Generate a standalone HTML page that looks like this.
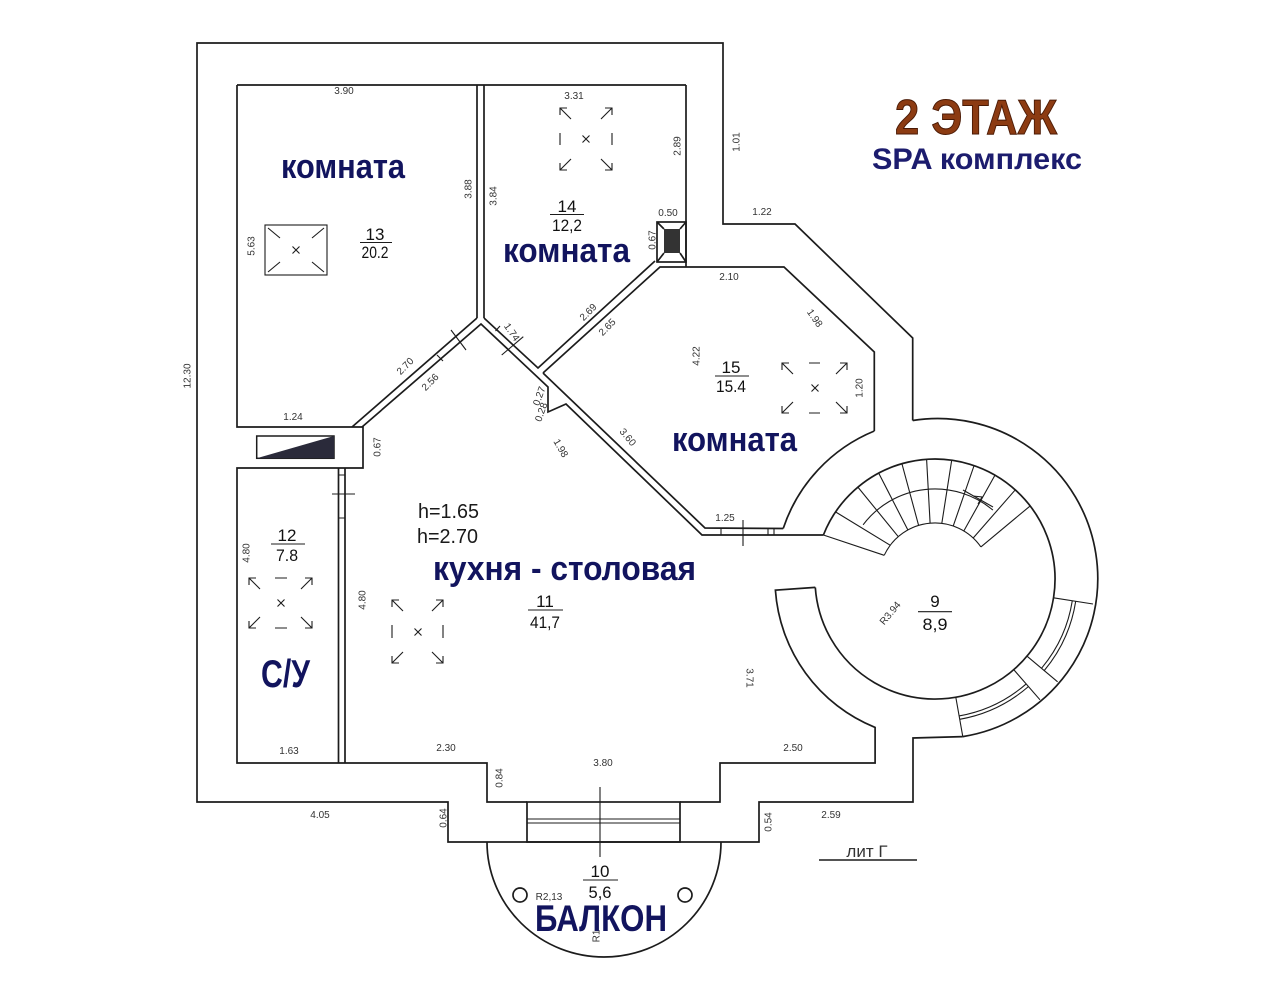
<!DOCTYPE html>
<html><head><meta charset="utf-8">
<style>
html,body{margin:0;padding:0;background:#fff;}
svg{display:block;}
.s{font-family:"Liberation Sans",sans-serif;font-size:10px;fill:#333;text-anchor:middle;}
.f{font-family:"Liberation Sans",sans-serif;font-size:17px;fill:#111;text-anchor:middle;}
.b{font-family:"Liberation Sans",sans-serif;font-weight:bold;fill:#12145e;}
</style></head>
<body>
<svg width="1280" height="1004" viewBox="0 0 1280 1004" xmlns="http://www.w3.org/2000/svg">
<rect width="1280" height="1004" fill="#fff"/>
<g fill="none" stroke="#1c1c1c" stroke-width="1.7" stroke-linejoin="miter">
  <!-- exterior -->
  <polyline points="912.7,420.5 912.7,338 795,224 723,224 723,43 197,43 197,802 448,802 448,842 759,842 759,802 913,802 913,738 962.8,736.6"/>
  <path d="M912.7,420.5 A160,160 0 0 1 962.8,736.6"/>
  <!-- rooms 13 / 12 left -->
  <line x1="237" y1="85" x2="686" y2="85"/>
  <polyline points="477,318 477,85"/>
  <polyline points="237,85 237,427 363,427 363,468 237,468 237,763 487,763 487,802 527,802"/>
  <polyline points="484,318 484,85"/>
  <polyline points="686,85 686,267"/>
  <!-- chimney -->
  <rect x="657" y="222" width="29" height="40"/>
  <path d="M657,222 L664,229 M686,222 L680,229 M657,262 L664,253 M686,262 L680,253"/>
  <!-- diagonal walls -->
  <line x1="477" y1="318" x2="352" y2="427"/>
  <polyline points="484,318 538,368 655,261"/>
  <polyline points="362,427 481,324 548,387 548,412 566,404 702,535 823.4,535"/>
  <polyline points="543,373 660,267 784,267 874.3,352 874.3,431"/>
  <polyline points="543,373 705,528 783.2,528.5"/>
  <path d="M783.2,528.5 A160,160 0 0 1 874.3,431"/>
  <!-- room 9 circle -->
  <path d="M823.4,535 A120,120 0 1 1 815.3,587.4"/>
  <!-- curved wall and kitchen bottom right -->
  <path d="M815.3,587.4 L775.4,590.2 A160,160 0 0 0 875.1,727.4 L875.1,763 L720,763 L720,802 L680,802"/>
  <!-- balcony door window -->
  <rect x="527" y="802" width="153" height="40"/>
  <!-- 12/kitchen wall -->
  <line x1="338.5" y1="468" x2="338.5" y2="763"/>
  <line x1="345" y1="468" x2="345" y2="763"/>
  <!-- balcony -->
  <path d="M487,842 A117,115 0 0 0 721,842"/>
  <circle cx="520" cy="895" r="7"/>
  <circle cx="685" cy="895" r="7"/>
</g>
<g fill="none" stroke="#1c1c1c" stroke-width="1.1">
  <!-- ticks -->
  <path d="M721,528 L721,535 M743,520 L743,546 M768,528 L768,535 M774,528 L774,535"/>
  <path d="M451,330 L466,350 M437,355 L443,361"/>
  <path d="M501.7,355 L523.3,336.7 M495.5,331 L500,326"/>
  <path d="M332,494 L355,494 M338.5,475 L345,475 M338.5,518 L345,518"/>
  <path d="M527,819 L680,819 M527,823 L680,823"/>
  <path d="M600,787 L600,857"/>
  <line x1="819" y1="860" x2="917" y2="860" stroke-width="1.6"/>
  <!-- stairs -->
  <path d="M884.2,555.3 A56,56 0 0 1 980.9,546.9"/>
  <path d="M863.1,524.8 A90,90 0 0 1 992.9,510.1"/>
  <path d="M823.4,535 L884.2,555.3 M835.5,511.9 L890.3,545.3 M857.9,487.1 L898.3,536.7 M878.7,473.1 L907.9,530 M901.9,463.6 L918.6,525.4 M926.6,459.3 L930.1,523.2 M951.7,460.2 L941.8,523.4 M974.1,465.5 L953.2,526.1 M995,475.1 L963.8,531 M1015.3,489.8 L973.2,538 M1030.2,505.9 L980.9,546.9"/>
  <path d="M963,490 L993,507"/>
  <path d="M973,496 L982,497 L978,504"/>
  <!-- tower windows -->
  <path d="M1053.5,597.8 L1093,604 M1026.9,656.1 L1057.6,681.8 M1013.7,669.6 L1040,699.8 M955.8,697.2 L962.8,736.6"/>
  <path d="M1072.3,600.7 A139,139 0 0 1 1041.5,668.3 M1075.7,601.3 A142.5,142.5 0 0 1 1044.2,670.6"/>
  <path d="M1026.2,683.9 A139,139 0 0 1 959.1,715.9 M1028.5,686.5 A142.5,142.5 0 0 1 959.7,719.3"/>
  <!-- ceiling symbols -->
  <rect x="265" y="225" width="62" height="50"/>
  <path d="M268,228 L280,238 M324,228 L312,238 M268,272 L280,262 M324,272 L312,262 M292.5,246.5 L299.5,253.5 M299.5,246.5 L292.5,253.5"/>
  <!-- room14 560,108-612,170 -->
  <path d="M567,108 L560,108 L560,115 M560,108 L571,119 M605,108 L612,108 L612,115 M612,108 L601,119 M560,163 L560,170 L567,170 M560,170 L571,159 M612,163 L612,170 L605,170 M612,170 L601,159 M560,133 L560,145 M612,133 L612,145 M582.5,135.5 L589.5,142.5 M589.5,135.5 L582.5,142.5"/>
  <!-- room15 782,363-847,413 -->
  <path d="M789,363 L782,363 L782,370 M782,363 L793,374 M840,363 L847,363 L847,370 M847,363 L836,374 M782,406 L782,413 L789,413 M782,413 L793,402 M847,406 L847,413 L840,413 M847,413 L836,402 M809,363 L820,363 M809,413 L820,413 M811.5,384.5 L818.5,391.5 M818.5,384.5 L811.5,391.5"/>
  <!-- room12 249,578-312,628 -->
  <path d="M256,578 L249,578 L249,585 M249,578 L260,589 M305,578 L312,578 L312,585 M312,578 L301,589 M249,621 L249,628 L256,628 M249,628 L260,617 M312,621 L312,628 L305,628 M312,628 L301,617 M275,578 L287,578 M275,628 L287,628 M277.5,599.5 L284.5,606.5 M284.5,599.5 L277.5,606.5"/>
  <!-- kitchen 392,600-443,663 -->
  <path d="M399,600 L392,600 L392,607 M392,600 L403,611 M436,600 L443,600 L443,607 M443,600 L432,611 M392,656 L392,663 L399,663 M392,663 L403,652 M443,656 L443,663 L436,663 M443,663 L432,652 M392,625 L392,638 M443,625 L443,638 M414.5,628.5 L421.5,635.5 M421.5,628.5 L414.5,635.5"/>
  <!-- fraction bars -->
  <path d="M360,242.5 L392,242.5 M550,214.5 L584,214.5 M715,376 L749,376 M271,544 L305,544 M528,610 L563,610 M918,611.7 L952,611.7 M583,880 L618,880"/>
</g>
<!-- dark fills -->
<rect x="664" y="229" width="16" height="24" fill="#333"/>
<rect x="256.7" y="436" width="77.3" height="22.3" fill="none" stroke="#1c1c1c" stroke-width="1.5"/>
<polygon points="256.7,458.3 334,436 334,458.3" fill="#2a2a3a"/>

<!-- small dimension labels -->
<g>
<text class="s" x="344" y="94">3.90</text>
<text class="s" x="574" y="99">3.31</text>
<text class="s" transform="translate(677,146) rotate(-90)" dy="3.5">2.89</text>
<text class="s" transform="translate(736,142) rotate(-90)" dy="3.5">1.01</text>
<text class="s" transform="translate(468,189) rotate(-90)" dy="3.5">3.88</text>
<text class="s" transform="translate(493,196) rotate(-90)" dy="3.5">3.84</text>
<text class="s" transform="translate(251,246) rotate(-90)" dy="3.5">5.63</text>
<text class="s" transform="translate(187,376) rotate(-90)" dy="3.5">12.30</text>
<text class="s" x="668" y="216">0.50</text>
<text class="s" transform="translate(652,240) rotate(-90)" dy="3.5">0.67</text>
<text class="s" x="762" y="215">1.22</text>
<text class="s" x="729" y="280">2.10</text>
<text class="s" transform="translate(815,318) rotate(55)" dy="3.5">1.98</text>
<text class="s" transform="translate(696,356) rotate(-90)" dy="3.5">4.22</text>
<text class="s" transform="translate(859,388) rotate(-90)" dy="3.5">1.20</text>
<text class="s" transform="translate(588,312) rotate(-45)" dy="3.5">2.69</text>
<text class="s" transform="translate(607,327) rotate(-45)" dy="3.5">2.65</text>
<text class="s" transform="translate(512,332) rotate(55)" dy="3.5">1.74</text>
<text class="s" transform="translate(405,366) rotate(-45)" dy="3.5">2.70</text>
<text class="s" transform="translate(430,382) rotate(-45)" dy="3.5">2.56</text>
<text class="s" transform="translate(539,396) rotate(-70)" dy="3.5">0.27</text>
<text class="s" transform="translate(541,412) rotate(-70)" dy="3.5">0.28</text>
<text class="s" transform="translate(561,448) rotate(60)" dy="3.5">1.98</text>
<text class="s" transform="translate(628,437) rotate(50)" dy="3.5">3.60</text>
<text class="s" x="293" y="420">1.24</text>
<text class="s" transform="translate(377,447) rotate(-90)" dy="3.5">0.67</text>
<text class="s" x="725" y="521">1.25</text>
<text class="s" transform="translate(246,553) rotate(-90)" dy="3.5">4.80</text>
<text class="s" transform="translate(362,600) rotate(-90)" dy="3.5">4.80</text>
<text class="s" transform="translate(750,678) rotate(90)" dy="3.5">3.71</text>
<text class="s" x="289" y="754">1.63</text>
<text class="s" x="446" y="751">2.30</text>
<text class="s" transform="translate(499,778) rotate(-90)" dy="3.5">0.84</text>
<text class="s" x="603" y="766">3.80</text>
<text class="s" x="793" y="751">2.50</text>
<text class="s" x="320" y="818">4.05</text>
<text class="s" transform="translate(443,818) rotate(-90)" dy="3.5">0.64</text>
<text class="s" transform="translate(768,822) rotate(-90)" dy="3.5">0.54</text>
<text class="s" x="831" y="818">2.59</text>
<text class="s" transform="translate(890,613) rotate(-50)" dy="3.5">R3.94</text>
<text class="s" x="549" y="900">R2,13</text>
<text class="s" transform="translate(596,936) rotate(-90)" dy="3.5">R1</text>
<text x="867" y="857" style="font-family:'Liberation Sans',sans-serif;font-size:17px;fill:#333;text-anchor:middle;">лит  Г</text>
</g>

<!-- fractions -->
<g>
<text class="f" x="375" y="240">13</text>
<text class="f" x="375" y="258" textLength="27" lengthAdjust="spacingAndGlyphs">20.2</text>
<text class="f" x="567" y="212">14</text>
<text class="f" x="567" y="231" textLength="30" lengthAdjust="spacingAndGlyphs">12,2</text>
<text class="f" x="731" y="373">15</text>
<text class="f" x="731" y="392" textLength="30" lengthAdjust="spacingAndGlyphs">15.4</text>
<text class="f" x="287" y="541">12</text>
<text class="f" x="287" y="561" textLength="22" lengthAdjust="spacingAndGlyphs">7.8</text>
<text class="f" x="545" y="607">11</text>
<text class="f" x="545" y="628" textLength="30" lengthAdjust="spacingAndGlyphs">41,7</text>
<text class="f" x="935" y="607">9</text>
<text class="f" x="935" y="630" textLength="25" lengthAdjust="spacingAndGlyphs">8,9</text>
<text class="f" x="600" y="877">10</text>
<text class="f" x="600" y="898" textLength="23" lengthAdjust="spacingAndGlyphs">5,6</text>
</g>

<!-- heights -->
<text x="418" y="518" textLength="61" lengthAdjust="spacingAndGlyphs" style="font-family:'Liberation Sans',sans-serif;font-size:20px;fill:#1a1a1a;">h=1.65</text>
<text x="417" y="543" textLength="61" lengthAdjust="spacingAndGlyphs" style="font-family:'Liberation Sans',sans-serif;font-size:20px;fill:#1a1a1a;">h=2.70</text>

<!-- room names -->
<text class="b" x="281" y="178" font-size="34" textLength="124" lengthAdjust="spacingAndGlyphs">комната</text>
<text class="b" x="503" y="262" font-size="34" textLength="127" lengthAdjust="spacingAndGlyphs">комната</text>
<text class="b" x="672" y="451" font-size="34" textLength="125" lengthAdjust="spacingAndGlyphs">комната</text>
<text class="b" x="433" y="580" font-size="34" textLength="263" lengthAdjust="spacingAndGlyphs">кухня - столовая</text>
<text class="b" x="261" y="687" font-size="39" textLength="49" lengthAdjust="spacingAndGlyphs">С/У</text>
<text class="b" x="535" y="931" font-size="37" textLength="132" lengthAdjust="spacingAndGlyphs">БАЛКОН</text>

<!-- title -->
<text x="895" y="134" font-size="49" textLength="162" lengthAdjust="spacingAndGlyphs" style="font-family:'Liberation Sans',sans-serif;font-weight:bold;fill:#8c3b12;stroke:#4a1a05;stroke-width:1;">2 ЭТАЖ</text>
<text class="b" x="872" y="169" font-size="30" textLength="210" lengthAdjust="spacingAndGlyphs" style="fill:#1c1c6e;">SPA комплекс</text>
</svg>
</body></html>
